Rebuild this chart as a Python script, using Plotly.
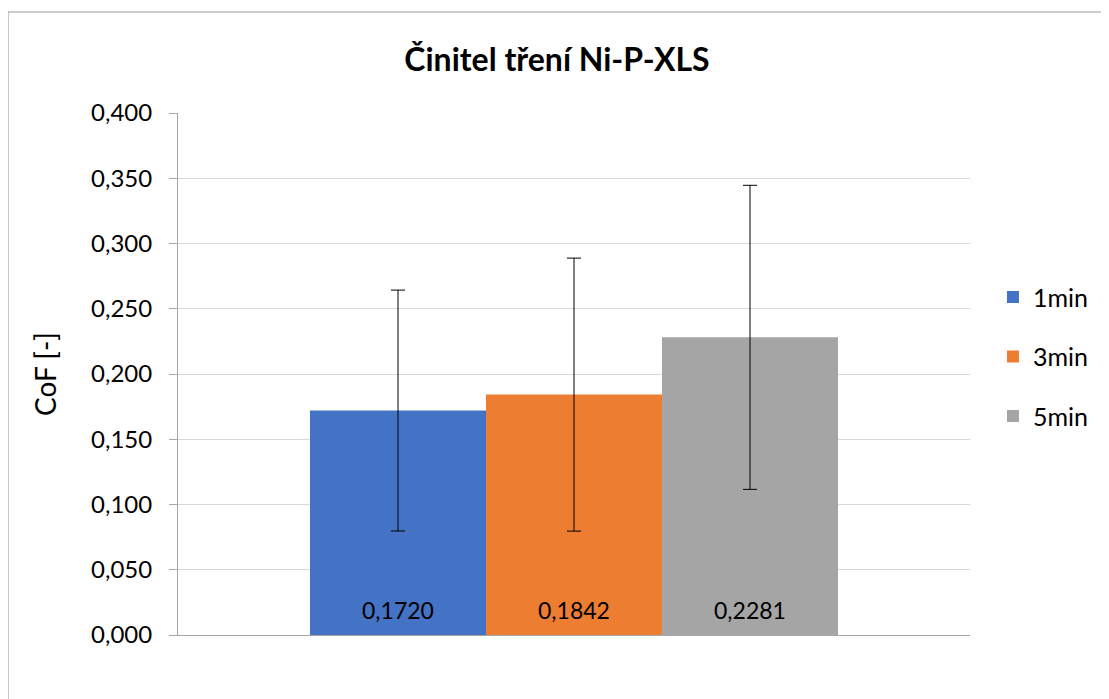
import plotly.graph_objects as go

# data
series = ["1min", "3min", "5min"]
cof_mean = [0.1720, 0.1842, 0.2281]
cof_err = [0.0923, 0.1046, 0.1165]
colors = ["#4472C4", "#ED7D31", "#A5A5A5"]

font_family = "Lato, 'Open Sans', sans-serif"

fig = go.Figure()
for name, m, e, c in zip(series, cof_mean, cof_err, colors):
    fig.add_trace(go.Bar(
        x=[name], y=[m], name=name, legendgroup=name,
        marker=dict(color=c, line=dict(width=0)),
        error_y=dict(type="data", array=[e], color="black", thickness=1, width=7),
        width=1, hoverinfo="name+y",
    ))
    # value label near the bottom of each bar
    fig.add_annotation(x=name, y=0, text=f"{m:.4f}".replace(".", ","),
                       showarrow=False, yanchor="middle", yshift=25,
                       font=dict(size=23, color="black"))

fig.update_layout(
    width=1109, height=699,
    paper_bgcolor="white", plot_bgcolor="white",
    separators=", ",
    font=dict(family=font_family, size=24, color="black"),
    title=dict(text="<b>Činitel tření Ni-P-XLS</b>", x=0.495, xanchor="center",
               y=0.9256, yanchor="middle", font=dict(size=32)),
    margin=dict(l=170, r=147, t=105, b=72),
    barmode="overlay",
    legend=dict(x=1.029, y=0.533, xanchor="left", yanchor="middle",
                tracegroupgap=24, font=dict(size=25), bgcolor="rgba(0,0,0,0)"),
    showlegend=True,
)

fig.update_yaxes(
    range=[0, 0.4], dtick=0.05, tickformat=".3f",
    showgrid=True, gridcolor="#D9D9D9", gridwidth=1,
    showline=True, linecolor="#A6A6A6", linewidth=1,
    ticks="outside", ticklen=8, tickcolor="#A6A6A6", ticklabelstandoff=12,
    zeroline=False,
    title=dict(text="CoF [-]", font=dict(size=28), standoff=26),
)
fig.update_xaxes(
    type="category", range=[-1.25, 3.25],
    showline=True, linecolor="#A6A6A6", linewidth=1,
    showticklabels=False, ticks="", showgrid=False,
)

# outer chart frame (only left and top edges are inside the picture)
fig.add_shape(type="rect", xref="paper", yref="paper",
              x0=-0.2146, x1=1.4, y0=-0.3, y1=1.1935,
              line=dict(color="#999999", width=1), fillcolor="rgba(0,0,0,0)", layer="below")

fig.write_html("out.html")
